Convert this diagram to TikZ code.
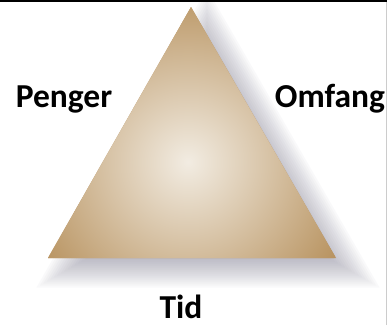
\documentclass[tikz,border=0pt]{standalone}
\usepackage{fontspec}
\setmainfont{Carlito}
\usetikzlibrary{positioning}

\definecolor{tanlight}{RGB}{242,236,226}
\definecolor{tandark}{RGB}{184,147,96}
\definecolor{shadowgray}{RGB}{112,110,132}

\tikzset{
    label text/.style={font=\fontsize{33.5}{38}\selectfont\bfseries, text=black, inner sep=0pt, anchor=base},
    shadow layer/.style={fill=shadowgray, opacity=0.034},
}

\begin{document}
\begin{tikzpicture}[x=1pt,y=1pt]
    \useasboundingbox (0,0) rectangle (387,325);
    \fill[white] (0,0) rectangle (387,325);
    % corners of the triangle
    \coordinate (top) at (191,318);
    \coordinate (left) at (48,67);
    \coordinate (right) at (336,67);
    % soft shadow: grown and shrunk copies round the shifted incentre
    \foreach \d [evaluate=\d as \s using (83.5+\d)/83.5] in {-22,-20,...,16}
        \path[shadow layer, shift={(208,137)}, scale=\s]
            (-1,167.5) -- (-144,-83.5) -- (144,-83.5) -- cycle;
    % triangle with radial highlight
    \fill[tandark] (top) -- (left) -- (right) -- cycle;
    \begin{scope}
        \clip (top) -- (left) -- (right) -- cycle;
        \shade[inner color=tanlight, outer color=tandark] (188,163) circle (175);
    \end{scope}
    % frame
    \fill[white] (0,325) rectangle (387,330);
    \draw[black, line width=2pt] (0,324) -- (387,324);
    \draw[black!20, line width=1pt] (386.5,0) -- (386.5,323);
    % labels
    \node[label text] (penger) at (64,218) {Penger};
    \node[label text] (omfang) at (330,218) {Omfang};
    \node[label text] (tid) at (181,7) {Tid};
\end{tikzpicture}
\end{document}
